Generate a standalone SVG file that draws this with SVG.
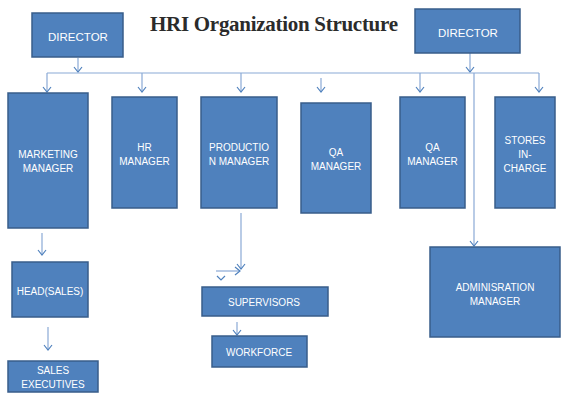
<svg xmlns="http://www.w3.org/2000/svg" width="568" height="400" viewBox="0 0 568 400">
<style>
.box{fill:#4F81BD;stroke:#385D8A;stroke-width:1.5}
.t{font-family:"Liberation Sans",Arial,sans-serif;font-size:10px;fill:#FFFFFF;text-anchor:middle}
.td{font-family:"Liberation Sans",Arial,sans-serif;font-size:11.5px;fill:#FFFFFF;text-anchor:middle}
.c{fill:none;stroke:#8AA9D6;stroke-width:1.2}
.ah{fill:none;stroke:#4F81BD;stroke-width:1.2}
</style>
<defs>
<marker id="v" viewBox="-6 -5 7 10" markerWidth="7" markerHeight="10" refX="0" refY="0" orient="auto" markerUnits="userSpaceOnUse">
<path d="M-5,-4 L0,0 L-5,4" fill="none" stroke="#4F81BD" stroke-width="1.2"/>
</marker>
</defs>
<rect width="568" height="400" fill="#FFFFFF"/>
<text x="150" y="31" font-family="'Liberation Serif','Times New Roman',serif" font-size="21" font-weight="bold" fill="#2B2B2B" textLength="248">HRI Organization Structure</text>
<g id="connectors">
<path class="c" d="M78,58 V72" marker-end="url(#v)"/>
<path class="c" d="M470,53 V72" marker-end="url(#v)"/>
<path class="c" d="M47,73 H539"/>
<path class="c" d="M47,73 V92" marker-end="url(#v)"/>
<path class="c" d="M142,73 V92" marker-end="url(#v)"/>
<path class="c" d="M241,73 V92" marker-end="url(#v)"/>
<path class="c" d="M321,78 V92" marker-end="url(#v)"/>
<path class="c" d="M420,73 V92" marker-end="url(#v)"/>
<path class="c" d="M539,73 V92" marker-end="url(#v)"/>
<path class="c" d="M474,73 V246" marker-end="url(#v)"/>
<path class="c" d="M42,233 V255" marker-end="url(#v)"/>
<path class="c" d="M48,327 V350" marker-end="url(#v)"/>
<path class="c" d="M241,213 V269" marker-end="url(#v)"/>
<path class="c" d="M216,271 H240" marker-end="url(#v)"/>
<path class="ah" d="M217,276 L221,280 L225,276"/>
<path class="c" d="M237,322 V335" marker-end="url(#v)"/>
</g>
<g id="director1"><rect class="box" x="32" y="13" width="91" height="44"/><text class="td" x="78" y="41">DIRECTOR</text></g>
<g id="director2"><rect class="box" x="415" y="9" width="105" height="44"/><text class="td" x="468" y="37">DIRECTOR</text></g>
<g id="marketing"><rect class="box" x="8" y="93" width="80" height="135"/><text class="t" x="48" y="158">MARKETING</text><text class="t" x="48" y="172">MANAGER</text></g>
<g id="hr"><rect class="box" x="112" y="97" width="65" height="111"/><text class="t" x="144.5" y="151">HR</text><text class="t" x="144.5" y="165">MANAGER</text></g>
<g id="production"><rect class="box" x="201" y="97" width="76" height="111"/><text class="t" x="239" y="151">PRODUCTIO</text><text class="t" x="239" y="165">N MANAGER</text></g>
<g id="qa1"><rect class="box" x="301" y="103" width="70" height="110"/><text class="t" x="336" y="156">QA</text><text class="t" x="336" y="170">MANAGER</text></g>
<g id="qa2"><rect class="box" x="400" y="97" width="65" height="111"/><text class="t" x="432.5" y="151">QA</text><text class="t" x="432.5" y="165">MANAGER</text></g>
<g id="stores"><rect class="box" x="495" y="97" width="60" height="111"/><text class="t" x="525" y="144">STORES</text><text class="t" x="525" y="158">IN-</text><text class="t" x="525" y="172">CHARGE</text></g>
<g id="admin"><rect class="box" x="430" y="247" width="130" height="90"/><text class="t" x="495" y="291">ADMINISRATION</text><text class="t" x="495" y="305">MANAGER</text></g>
<g id="headsales"><rect class="box" x="12" y="262" width="76" height="55"/><text class="t" x="50" y="295">HEAD(SALES)</text></g>
<g id="salesexec"><rect class="box" x="8" y="361" width="90" height="31"/><text class="t" x="53" y="374">SALES</text><text class="t" x="53" y="388">EXECUTIVES</text></g>
<g id="supervisors"><rect class="box" x="202" y="287" width="126" height="29"/><text class="t" x="264" y="306">SUPERVISORS</text></g>
<g id="workforce"><rect class="box" x="212" y="336" width="95" height="31"/><text class="t" x="259" y="356">WORKFORCE</text></g>
</svg>
